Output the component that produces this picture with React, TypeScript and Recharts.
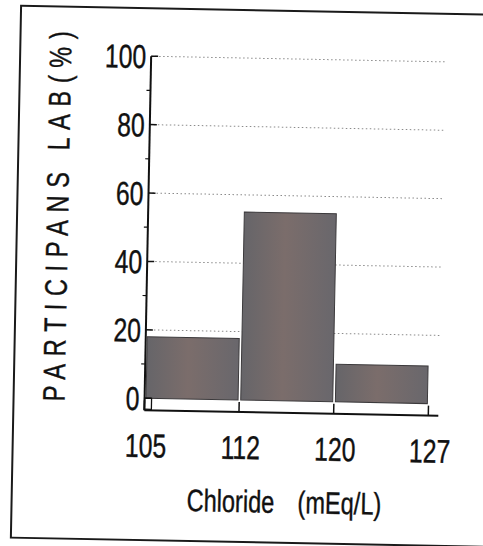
import { BarChart, Bar, XAxis, YAxis, CartesianGrid } from "recharts";

// chloride bins (mEq/L) and share of participating labs (%)
const bins = ["105-112", "112-120", "120-127"];
const participants = [18, 55, 11];
const edgeLabels = ["105", "112", "120", "127"];
const yTicks = [0, 10, 20, 30, 40, 50, 60, 70, 80, 90, 100];
const gridValues = [20, 40, 60, 80, 100];

const data = bins.map((bin, i) => ({ bin, value: participants[i] }));

const W = 483;
const H = 546;
const PLOT_LEFT = 147;
const PLOT_RIGHT = 441;
const PLOT_TOP = 58;
const PLOT_BOTTOM = 412;
const FONT = "'Liberation Sans', Arial, sans-serif";
const SQUEEZE = 0.75;
const ink = { fill: "#111", stroke: "#111", strokeWidth: 0.4 };

const YTick = (props: any) => {
  const { y, payload } = props;
  const v = payload.value as number;
  if (v % 20 !== 0) {
    return <line x1={PLOT_LEFT - 4} x2={PLOT_LEFT} y1={y} y2={y} stroke="#111" strokeWidth={1.2} />;
  }
  return (
    <g>
      <line x1={PLOT_LEFT} x2={PLOT_LEFT + 7} y1={y} y2={y} stroke="#111" strokeWidth={1.5} />
      <text
        transform={`translate(${PLOT_LEFT - 5},${y + 12}) scale(${SQUEEZE},1)`}
        textAnchor="end"
        fontFamily={FONT}
        fontSize={33}
        {...ink}
      >
        {v}
      </text>
    </g>
  );
};

const edgeMark = (x: number, label: string, key: string) => (
  <g key={key}>
    <line x1={x} x2={x} y1={PLOT_BOTTOM} y2={PLOT_BOTTOM - 10} stroke="#111" strokeWidth={1.5} />
    <text
      transform={`translate(${x + 2},459) scale(${SQUEEZE},1)`}
      textAnchor="middle"
      fontFamily={FONT}
      fontSize={33}
      {...ink}
    >
      {label}
    </text>
  </g>
);

// bin ticks sit mid-band; labels go on the bin edges
const BinTick = (props: any) => {
  const { x, payload, index } = props;
  const half = payload.offset ?? 0;
  const marks = [edgeMark(x - half, edgeLabels[index], "l")];
  if (index === bins.length - 1) marks.push(edgeMark(x + half, edgeLabels[index + 1], "r"));
  return <g>{marks}</g>;
};

const XTitle = () => (
  <text transform={`translate(191,512) scale(0.76,1)`} fontFamily={FONT} fontSize={31} {...ink}>
    <tspan>Chloride</tspan>
    <tspan x={146}>(mEq/L)</tspan>
  </text>
);

const YTitle = () => (
  <text
    transform={`translate(67,216) rotate(-90) scale(0.76,1)`}
    textAnchor="middle"
    fontFamily={FONT}
    fontSize={31}
    letterSpacing={10}
    {...ink}
  >
    PARTICIPANS LAB(%)
  </text>
);

export default function App() {
  return (
    <div style={{ position: "absolute", left: 0, top: 0, width: W, height: H, overflow: "hidden", background: "#fff" }}>
      <div style={{ position: "absolute", left: 0, top: 0, width: W, height: H, transform: "rotate(1.1deg)" }}>
        <div
          style={{
            position: "absolute",
            left: 15,
            top: 9,
            width: 500,
            height: 534,
            border: "2px solid #1a1a1a",
            boxSizing: "border-box",
          }}
        />
        <div style={{ position: "absolute", left: 0, top: 0 }}>
          <BarChart
            width={W}
            height={H}
            data={data}
            barCategoryGap={1.5}
            margin={{ left: PLOT_LEFT - 100, right: W - PLOT_RIGHT, top: PLOT_TOP, bottom: H - PLOT_BOTTOM - 30 }}
          >
            <defs>
              <linearGradient id="barFill" x1="0" y1="0" x2="1" y2="0">
                <stop offset="0%" stopColor="#666569" />
                <stop offset="45%" stopColor="#7b6d6b" />
                <stop offset="100%" stopColor="#69676c" />
              </linearGradient>
            </defs>
            <CartesianGrid
              vertical={false}
              horizontalValues={gridValues}
              stroke="#8a8a8a"
              strokeDasharray="1.5 2.5"
            />
            <XAxis
              dataKey="bin"
              interval={0}
              padding={{ left: 0, right: 10 }}
              tick={<BinTick />}
              tickLine={false}
              axisLine={{ stroke: "#111", strokeWidth: 2 }}
              height={30}
            />
            <YAxis
              type="number"
              domain={[-3.5, 100]}
              allowDataOverflow
              ticks={yTicks}
              interval={0}
              tick={<YTick />}
              tickLine={false}
              axisLine={{ stroke: "#111", strokeWidth: 2 }}
              width={100}
            />
            <Bar dataKey="value" fill="url(#barFill)" stroke="#3c3a3c" strokeWidth={1} isAnimationActive={false} />
          </BarChart>
        </div>
        <svg width={W} height={H} style={{ position: "absolute", left: 0, top: 0, pointerEvents: "none" }}>
          <rect x={PLOT_LEFT} y={PLOT_BOTTOM - 12} width={7} height={11} fill="none" stroke="#111" strokeWidth={1.3} />
          <XTitle />
          <YTitle />
        </svg>
      </div>
    </div>
  );
}
